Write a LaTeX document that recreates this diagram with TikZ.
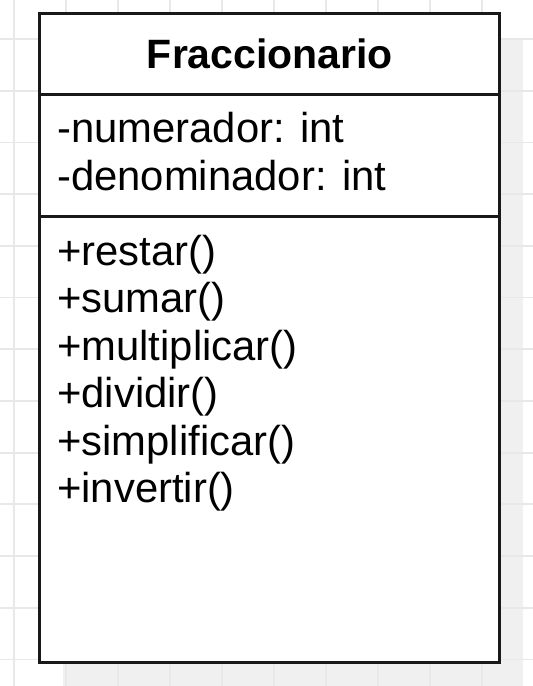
\documentclass[tikz,border=0pt]{standalone}
\usepackage{fontspec}
\setmainfont{Liberation Sans}
\begin{document}
\begin{tikzpicture}[x=1pt,y=-1pt,
  gridline/.style={draw=black!9, line width=1.8pt},
  shadowbox/.style={fill=black!6, draw=none},
  classbox/.style={draw=black!90, line width=3pt, fill=white, rectangle,
    minimum width=459.5pt, minimum height=648.5pt, inner sep=0pt},
  divider/.style={draw=black!90, line width=3pt},
  title/.style={font=\fontsize{41}{48}\selectfont\bfseries, inner sep=0pt, anchor=base},
  member/.style={font=\fontsize{41.8}{48}\selectfont, inner sep=0pt, anchor=base west}]
  % page
  \useasboundingbox (0,0) rectangle (533,686);
  \fill[white] (0,0) rectangle (533,686);
  % drop shadow of the class box
  \fill[shadowbox] (63,38) rectangle (523,686);
  % background grid
  \foreach \gx in {14,66,118,170,222,274,326,378,430,482}
    \draw[gridline] (\gx,0) -- (\gx,686);
  \foreach \k in {0,...,12}
    \draw[gridline] (0,39+51.7*\k) -- (533,39+51.7*\k);
  % class box
  \node[classbox] (cls) at (269.25,337.75) {};
  \coordinate (d1w) at (39.5,94);
  \coordinate (d1e) at (499,94);
  \coordinate (d2w) at (39.5,216);
  \coordinate (d2e) at (499,216);
  \draw[divider] (d1w) -- (d1e);
  \draw[divider] (d2w) -- (d2e);
  % name
  \node[title] (name) at (270,68) {Fraccionario};
  % attributes
  \node[member] (a1) at (57,142) {-numerador: int};
  \node[member] (a2) at (57,190) {-denominador: int};
  % operations
  \node[member] (m1) at (57,265) {+restar()};
  \node[member] (m2) at (57,312.5) {+sumar()};
  \node[member] (m3) at (57,360) {+multiplicar()};
  \node[member] (m4) at (57,407.5) {+dividir()};
  \node[member] (m5) at (57,455) {+simplificar()};
  \node[member] (m6) at (57,502.5) {+invertir()};
\end{tikzpicture}
\end{document}
